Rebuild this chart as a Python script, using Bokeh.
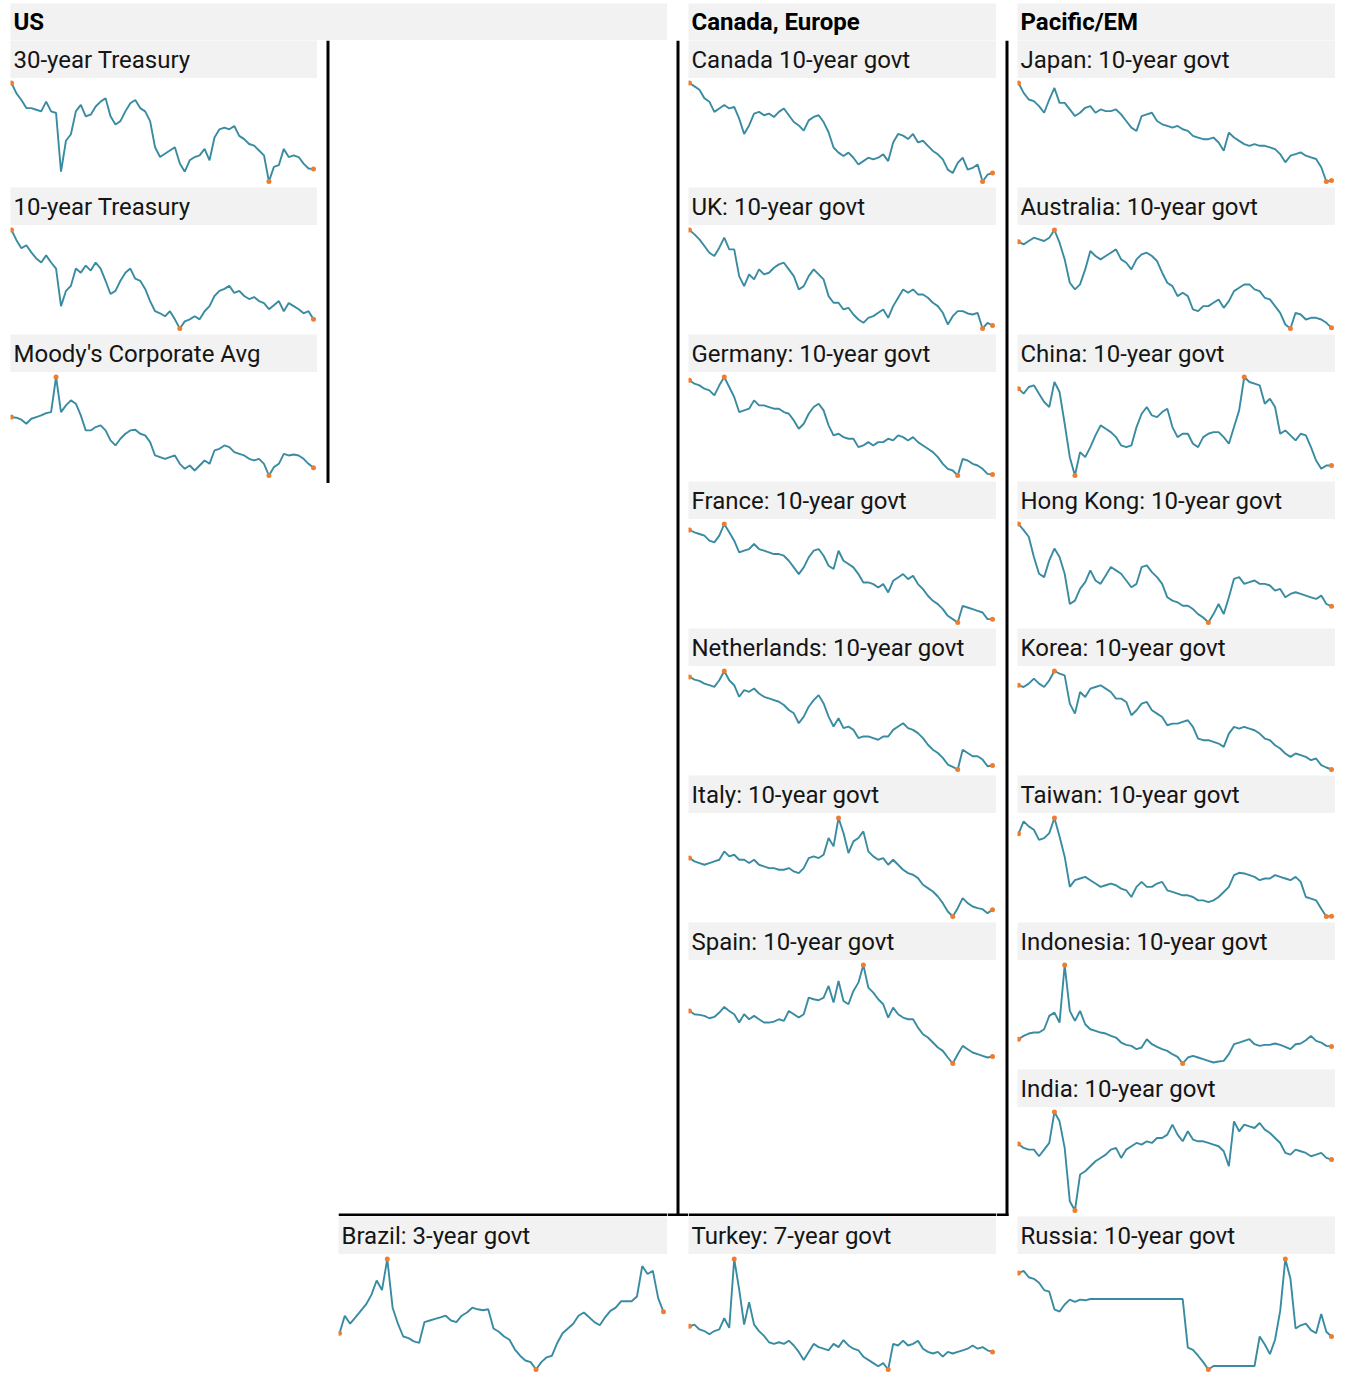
from bokeh.plotting import figure
from bokeh.layouts import row, column
from bokeh.models import Range1d, Span, Spacer, BoxAnnotation
from bokeh.core.properties import value
from bokeh.embed import file_html
from bokeh.resources import INLINE

FONT = "Roboto"
LINE = "#2E859C"
DOT = "#ED7D31"
BAND = "#F2F2F2"

# ---------------- data (relative levels) ----------------
headers = ["US", "Canada, Europe", "Pacific/EM"]

t30 = [302, 270, 250, 225, 225, 220, 215, 245, 215, 210, 30, 125, 145, 215, 235, 200, 205, 230, 245, 255,
       200, 175, 185, 215, 240, 250, 225, 215, 185, 105, 75, 85, 95, 105, 55, 30, 65, 75, 80, 100,
       65, 135, 160, 165, 160, 170, 140, 130, 115, 110, 95, 80, 0, 45, 50, 100, 75, 80, 75, 55, 40, 38]
t10 = [97, 87, 79, 82, 75, 69, 65, 72, 65, 59, 22, 37, 42, 59, 55, 62, 57, 65, 59, 47,
       34, 37, 47, 55, 59, 49, 47, 39, 27, 17, 15, 12, 17, 9, 0, 7, 9, 12, 9, 17,
       22, 32, 37, 39, 42, 35, 37, 32, 29, 31, 27, 25, 19, 23, 27, 17, 25, 22, 19, 15, 17, 9]
moodys = [175, 173, 167, 155, 170, 175, 180, 187, 190, 295, 190, 210, 225, 215, 180, 135, 135, 145, 150, 135,
          105, 90, 110, 125, 135, 137, 125, 120, 100, 60, 55, 50, 55, 60, 35, 20, 30, 15, 30, 45,
          35, 75, 80, 90, 85, 70, 65, 60, 50, 45, 50, 35, 0, 25, 35, 65, 60, 63, 60, 50, 35, 23]
brazil = [113, 168, 143, 163, 183, 203, 233, 278, 248, 345, 193, 143, 103, 98, 88, 83, 148, 153, 158, 163,
          168, 153, 148, 168, 178, 193, 188, 185, 188, 128, 118, 103, 93, 63, 43, 28, 23, 0, 23, 38,
          43, 83, 113, 128, 143, 168, 178, 163, 148, 138, 163, 183, 193, 213, 213, 213, 228, 323, 298, 308, 223, 180]
canada = [290, 280, 270, 245, 235, 205, 215, 225, 215, 220, 185, 140, 165, 200, 205, 195, 200, 190, 205, 215,
          195, 175, 165, 150, 180, 190, 195, 175, 145, 100, 85, 75, 85, 70, 50, 60, 70, 65, 70, 80,
          60, 115, 140, 135, 125, 140, 115, 120, 105, 90, 80, 65, 35, 25, 55, 70, 35, 40, 50, 0, 20, 25]
uk = [295, 282, 267, 247, 227, 217, 242, 272, 237, 237, 157, 127, 162, 147, 177, 162, 167, 182, 192, 197,
      177, 157, 117, 127, 157, 177, 162, 147, 97, 77, 77, 57, 62, 42, 27, 17, 32, 37, 47, 57,
      32, 67, 92, 117, 107, 117, 102, 102, 92, 77, 67, 47, 12, 37, 52, 52, 45, 42, 47, 0, 17, 9]
germany = [285, 275, 270, 260, 255, 240, 270, 295, 265, 235, 190, 195, 200, 225, 210, 210, 205, 200, 200, 190,
           185, 165, 140, 155, 185, 205, 215, 195, 150, 120, 125, 115, 110, 110, 85, 90, 100, 90, 100, 100,
           110, 105, 120, 115, 105, 115, 100, 90, 80, 70, 55, 35, 20, 15, 0, 50, 45, 35, 30, 20, 5, 3]
france = [277, 270, 265, 260, 245, 240, 260, 295, 270, 245, 210, 215, 220, 235, 220, 215, 210, 205, 205, 200,
          185, 165, 145, 165, 195, 215, 220, 200, 170, 160, 215, 185, 175, 165, 145, 120, 120, 115, 105, 115,
          90, 125, 135, 145, 130, 140, 115, 100, 80, 65, 55, 40, 20, 10, 0, 50, 45, 40, 35, 30, 10, 10]
netherlands = [280, 272, 268, 260, 255, 250, 270, 298, 270, 255, 220, 240, 235, 245, 230, 220, 215, 210, 205, 195,
               180, 170, 140, 160, 190, 210, 225, 200, 160, 130, 155, 125, 130, 120, 95, 100, 100, 95, 90, 100,
               100, 120, 130, 140, 125, 120, 110, 95, 75, 60, 50, 35, 15, 8, 0, 60, 50, 40, 40, 30, 10, 12]
italy = [175, 165, 160, 155, 160, 165, 170, 195, 180, 185, 170, 170, 160, 170, 155, 150, 145, 145, 140, 140,
         145, 135, 130, 145, 175, 180, 175, 185, 235, 210, 295, 250, 190, 225, 235, 255, 195, 180, 170, 175,
         155, 170, 155, 140, 130, 125, 115, 95, 85, 75, 60, 40, 15, 0, 25, 55, 40, 30, 25, 22, 10, 20]
spain = [158, 148, 146, 143, 136, 140, 153, 170, 158, 148, 123, 148, 133, 143, 133, 123, 123, 126, 133, 128,
         158, 148, 138, 148, 198, 193, 190, 198, 233, 183, 248, 188, 178, 218, 243, 296, 228, 213, 193, 178,
         138, 168, 148, 138, 133, 133, 108, 88, 78, 63, 48, 38, 18, 0, 28, 53, 43, 33, 28, 23, 18, 21]
turkey = [135, 140, 125, 120, 110, 120, 125, 160, 130, 345, 250, 140, 210, 140, 120, 105, 85, 80, 85, 80,
          90, 75, 55, 30, 55, 80, 70, 65, 60, 80, 70, 92, 75, 65, 60, 40, 30, 20, 10, 20,
          0, 80, 75, 90, 75, 80, 90, 65, 55, 50, 55, 40, 55, 50, 55, 60, 65, 75, 65, 70, 60, 55]
japan = [298, 268, 248, 243, 228, 208, 248, 283, 238, 238, 218, 198, 208, 223, 228, 208, 218, 213, 213, 218,
         203, 183, 163, 153, 198, 203, 208, 183, 173, 168, 163, 168, 158, 153, 138, 133, 128, 128, 133, 118,
         93, 148, 133, 123, 113, 108, 113, 108, 108, 103, 98, 83, 58, 78, 83, 88, 78, 73, 68, 43, 0, 3]
australia = [260, 252, 262, 272, 267, 262, 272, 295, 257, 207, 137, 117, 132, 177, 232, 217, 207, 217, 227, 237,
             207, 197, 177, 207, 222, 227, 217, 202, 167, 137, 127, 97, 107, 97, 57, 52, 67, 67, 77, 87,
             62, 82, 112, 122, 132, 132, 117, 112, 92, 87, 67, 47, 12, 0, 47, 42, 27, 32, 32, 27, 17, 2]
china = [260, 245, 265, 270, 245, 220, 205, 280, 250, 155, 55, 0, 70, 55, 85, 120, 150, 140, 130, 115,
         90, 85, 90, 145, 185, 205, 180, 175, 190, 200, 145, 115, 125, 125, 95, 85, 115, 125, 130, 130,
         115, 95, 145, 195, 295, 280, 275, 270, 215, 230, 205, 125, 135, 120, 105, 125, 120, 85, 45, 20, 30, 30]
hongkong = [293, 275, 255, 195, 145, 135, 185, 220, 195, 145, 55, 65, 100, 120, 155, 125, 115, 140, 165, 155,
            145, 125, 105, 115, 165, 170, 150, 135, 115, 75, 65, 60, 50, 50, 40, 25, 15, 0, 25, 55,
            25, 75, 130, 135, 115, 120, 125, 115, 115, 110, 95, 100, 75, 85, 90, 85, 80, 75, 70, 80, 55, 48]
korea = [253, 248, 258, 273, 258, 248, 268, 296, 288, 283, 198, 168, 233, 218, 243, 248, 253, 243, 233, 213,
         213, 203, 163, 178, 198, 203, 178, 168, 158, 133, 138, 138, 143, 148, 128, 93, 88, 88, 83, 78,
         68, 108, 128, 123, 128, 123, 118, 108, 93, 88, 73, 63, 48, 38, 48, 43, 38, 28, 33, 13, 6, 0]
taiwan = [246, 283, 268, 258, 228, 233, 248, 293, 238, 178, 88, 108, 113, 118, 108, 98, 88, 93, 98, 93,
          83, 78, 58, 88, 103, 88, 88, 98, 103, 78, 73, 68, 63, 63, 58, 48, 48, 43, 48, 58,
          73, 88, 123, 130, 128, 123, 118, 108, 113, 113, 123, 118, 113, 108, 118, 103, 58, 53, 48, 23, 0, 1]
indonesia = [73, 83, 90, 93, 93, 103, 143, 153, 123, 296, 158, 128, 158, 118, 103, 98, 93, 90, 83, 78,
             63, 56, 53, 43, 48, 73, 58, 50, 43, 38, 28, 20, 0, 18, 23, 18, 13, 8, 3, 6,
             8, 28, 58, 63, 68, 73, 58, 53, 56, 56, 60, 56, 50, 43, 58, 60, 70, 83, 68, 63, 53, 51]
india = [200, 188, 183, 183, 163, 183, 203, 296, 268, 188, 28, 0, 108, 118, 133, 148, 158, 168, 183, 188,
         158, 183, 193, 203, 198, 208, 203, 218, 218, 228, 258, 228, 208, 238, 213, 208, 208, 203, 198, 193,
         178, 133, 268, 238, 258, 253, 248, 263, 243, 233, 218, 203, 173, 168, 183, 178, 173, 163, 168, 173, 158, 153]
russia = [301, 308, 288, 283, 271, 248, 243, 188, 181, 203, 218, 211, 218, 216, 220,
          220, 220, 220, 220, 220, 220, 220, 220, 220, 220, 220, 220, 220, 220, 220, 220, 220, 220,
          68, 61, 43, 23, 0, 11,
          11, 11, 11, 11, 11, 11, 11, 11,
          103, 78, 48, 93, 183, 345, 283, 128, 138, 143, 123, 113, 173, 118, 103]

col1_series = [("30-year Treasury", t30), ("10-year Treasury", t10), ("Moody's Corporate Avg", moodys)]
col2_series = [("Brazil: 3-year govt", brazil)]
col3_series = [("Canada 10-year govt", canada), ("UK: 10-year govt", uk), ("Germany: 10-year govt", germany),
               ("France: 10-year govt", france), ("Netherlands: 10-year govt", netherlands),
               ("Italy: 10-year govt", italy), ("Spain: 10-year govt", spain)]
col3_last = [("Turkey: 7-year govt", turkey)]
col4_series = [("Japan: 10-year govt", japan), ("Australia: 10-year govt", australia), ("China: 10-year govt", china),
               ("Hong Kong: 10-year govt", hongkong), ("Korea: 10-year govt", korea), ("Taiwan: 10-year govt", taiwan),
               ("Indonesia: 10-year govt", indonesia), ("India: 10-year govt", india), ("Russia: 10-year govt", russia)]

# ---------------- layout sizes ----------------
W1, W2, W3, W4, G = 307, 329, 308, 318, 21
LEFT, TOP = 10, 3
HDR_H, TTL_H, SPK_H, LAST_SPK_H = 37, 38, 109, 121
ROW_H = TTL_H + SPK_H
RULE = "black"


def blank(w, h, color="white"):
    p = figure(width=w, height=h, x_range=Range1d(0, 1), y_range=Range1d(0, 1),
               output_backend="svg", toolbar_location=None, x_axis_type=None, y_axis_type=None,
               min_border=0, outline_line_color=None,
               background_fill_color=color, border_fill_color=color)
    return p


def band(text, w, h, size, bold=False, color="#151515"):
    p = blank(w, h, BAND)
    p.x_range = Range1d(0, w)
    p.y_range = Range1d(0, h)
    p.text(x=[3], y=[h / 2.0], text=[text], text_font=value(FONT), text_font_size=size,
           text_font_style="bold" if bold else "normal", text_color=color,
           text_baseline="middle", text_align="left")
    return p


def spark(vals, w, h):
    n = len(vals)
    xs = list(range(n))
    mn, mx = min(vals), max(vals)
    span = (mx - mn) or 1
    p = blank(w, h)
    inner = h - 10.5
    p.y_range = Range1d(mn - span * 6.0 / inner, mx + span * 4.5 / inner)
    p.x_range = Range1d(-(n - 1) * 1.0 / (w - 5), (n - 1) * (1 + 4.0 / (w - 5)))
    p.line(xs, vals, line_color=LINE, line_width=1.9, line_alpha=0.95)
    idx = sorted({0, n - 1, vals.index(mn), vals.index(mx)})
    p.scatter([xs[i] for i in idx], [vals[i] for i in idx], size=5, color=DOT, line_color=None)
    return p


def rules(w, h, vertical=False, bottom=False, half_bottom=False):
    """Empty panel carrying the black separator rules of the facet grid."""
    p = blank(w, h)
    p.x_range = Range1d(0, w)
    p.y_range = Range1d(0, h)
    if vertical:
        p.add_layout(Span(location=w / 2.0, dimension="height", line_color=RULE, line_width=3))
    if bottom:
        p.add_layout(Span(location=1.5, dimension="width", line_color=RULE, line_width=3))
    if half_bottom:
        p.add_layout(BoxAnnotation(left=0, right=w / 2.0 + 1.5, bottom=0, top=3,
                                   fill_color=RULE, fill_alpha=1.0, line_color=None))
    return p


def cells(series, w, last_h=SPK_H):
    out = []
    for i, (name, vals) in enumerate(series):
        out.append(band(name, w, TTL_H, "24px"))
        out.append(spark(vals, w, last_h if i == len(series) - 1 else SPK_H))
    return out


header_row = row(Spacer(width=LEFT, height=HDR_H),
                 band(headers[0], W1 + G + W2, HDR_H, "24px", bold=True, color="black"),
                 Spacer(width=G, height=HDR_H),
                 band(headers[1], W3, HDR_H, "24px", bold=True, color="black"),
                 Spacer(width=G, height=HDR_H),
                 band(headers[2], W4, HDR_H, "24px", bold=True, color="black"))

col1 = column(*cells(col1_series, W1))
gap1 = rules(G, 3 * ROW_H + 2, vertical=True)

col2 = column(rules(W2, 8 * ROW_H, bottom=True), *cells(col2_series, W2, LAST_SPK_H))
gap2 = rules(G, 8 * ROW_H, vertical=True, bottom=True)

col3 = column(*cells(col3_series, W3), rules(W3, ROW_H, bottom=True),
              *cells(col3_last, W3, LAST_SPK_H))
gap3 = rules(G, 8 * ROW_H, vertical=True, half_bottom=True)

col4 = column(*cells(col4_series, W4, LAST_SPK_H))

body_row = row(Spacer(width=LEFT, height=10), col1, gap1, col2, gap2, col3, gap3, col4)
layout = column(Spacer(width=10, height=TOP), header_row, body_row)

open("out.html", "w").write(file_html(layout, INLINE))
